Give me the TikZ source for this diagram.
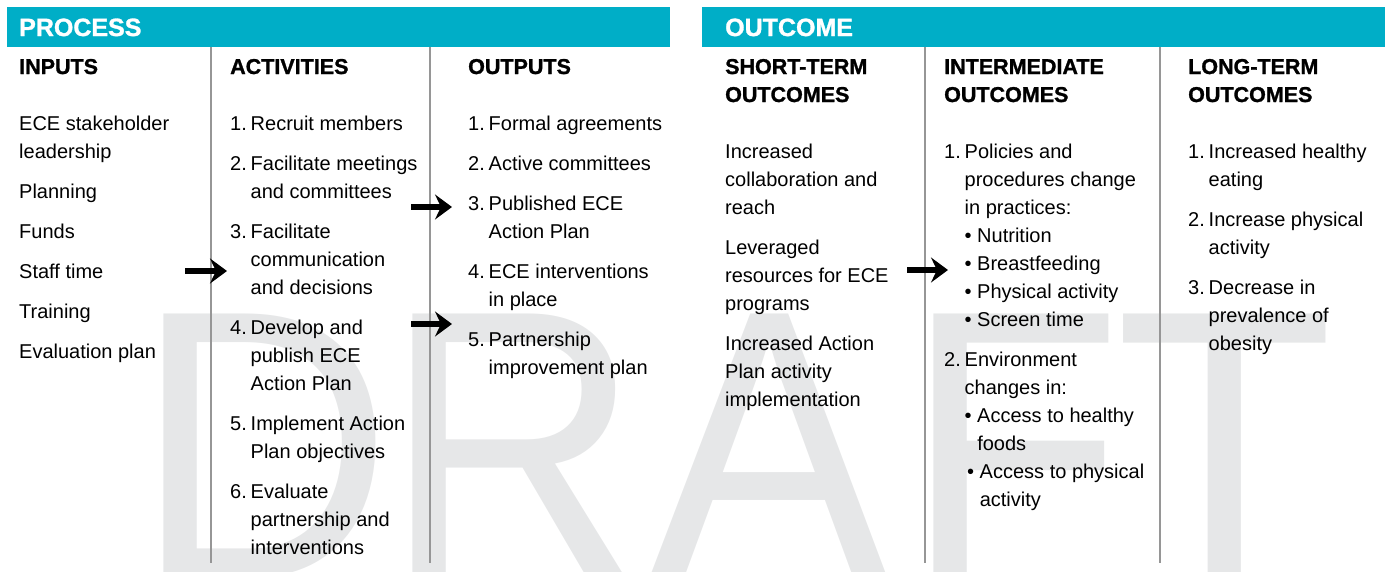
\documentclass[tikz,border=0pt]{standalone}
\usepackage{fontspec}
\setmainfont{Liberation Sans}[BoldFeatures={FakeBold=1.2}]
\usepackage{tikz}
\usetikzlibrary{arrows.meta, positioning}
\definecolor{bannerblue}{RGB}{0,174,199}
\definecolor{draftgray}{RGB}{230,231,232}
\definecolor{rulegray}{RGB}{150,150,150}
\newcommand{\lmnum}[1]{\makebox[20.5pt][l]{#1}}
\newcommand{\lmcont}{\hspace*{20.5pt}}
\newcommand{\lmbul}{\textbullet\ }

\begin{document}
\begin{tikzpicture}[x=1pt, y=-1pt,
	banner/.style={fill=bannerblue, draw=none},
	bannertext/.style={anchor=base west, inner sep=0pt, text=white, font=\fontsize{25}{30}\selectfont\bfseries},
	colhead/.style={anchor=base west, inner sep=0pt, align=left, font=\fontsize{21.5}{28}\selectfont\bfseries},
	item/.style={anchor=base west, inner sep=0pt, align=left, font=\fontsize{20}{28}\selectfont},
	colrule/.style={rulegray, line width=1.1pt},
	flow/.style={-{Stealth[length=17pt, width=25pt, inset=6pt]}, line width=6pt},
	watermark/.style={anchor=base west, inner sep=0pt, text=draftgray, yscale=1.07, font=\fontsize{358}{358}\selectfont}]
		\useasboundingbox (0,0) rectangle (1385,571);
		
		% watermark behind everything
		\begin{scope}
			\clip (0,0) rectangle (1385,571);
			\foreach \ch/\x in {D/134,R/383,A/649,F/904,T/1115}{
				\node[watermark] (draft\ch) at (\x,577) {\ch};
			}
		\end{scope}
		
		% banners
		\fill[banner] (7,7) rectangle (670,47);
		\fill[banner] (702,7) rectangle (1385,47);
		\node[bannertext] (process) at (19,36) {PROCESS};
		\node[bannertext] (outcome) at (725,36) {OUTCOME};
		
		\foreach \x in {211,430,925,1160}{
			\draw[colrule] (\x,47)--(\x,563);
		}
		
		% column heads (base = last line)
		\node[colhead] (hinputs) at (19,74) {INPUTS};
		\node[colhead] (hactivities) at (230,74) {ACTIVITIES};
		\node[colhead] (houtputs) at (468,74) {OUTPUTS};
		\node[colhead] (hshort) at (725,102) {SHORT-TERM\\OUTCOMES};
		\node[colhead] (hinter) at (944,102) {INTERMEDIATE\\OUTCOMES};
		\node[colhead] (hlong) at (1188,102) {LONG-TERM\\OUTCOMES};
		
		% inputs
		\node[item] (in1) at (19,158) {ECE stakeholder\\leadership};
		\node[item] (in2) at (19,198) {Planning};
		\node[item] (in3) at (19,238) {Funds};
		\node[item] (in4) at (19,278) {Staff time};
		\node[item] (in5) at (19,318) {Training};
		\node[item] (in6) at (19,358) {Evaluation plan};
		
		% activities
		\node[item] (act1) at (230,130) {\lmnum{1.}Recruit members};
		\node[item] (act2) at (230,198) {\lmnum{2.}Facilitate meetings\\\lmcont and committees};
		\node[item] (act3) at (230,294) {\lmnum{3.}Facilitate\\\lmcont communication\\\lmcont and decisions};
		\node[item] (act4) at (230,390) {\lmnum{4.}Develop and\\\lmcont publish ECE\\\lmcont Action Plan};
		\node[item] (act5) at (230,458) {\lmnum{5.}Implement Action\\\lmcont Plan objectives};
		\node[item] (act6) at (230,554) {\lmnum{6.}Evaluate\\\lmcont partnership and\\\lmcont interventions};
		
		% outputs
		\node[item] (out1) at (468,130) {\lmnum{1.}Formal agreements};
		\node[item] (out2) at (468,170) {\lmnum{2.}Active committees};
		\node[item] (out3) at (468,238) {\lmnum{3.}Published ECE\\\lmcont Action Plan};
		\node[item] (out4) at (468,306) {\lmnum{4.}ECE interventions\\\lmcont in place};
		\node[item] (out5) at (468,374) {\lmnum{5.}Partnership\\\lmcont improvement plan};
		
		% short-term outcomes
		\node[item] (st1) at (725,214) {Increased\\collaboration and\\reach};
		\node[item] (st2) at (725,310) {Leveraged\\resources for ECE\\programs};
		\node[item] (st3) at (725,406) {Increased Action\\Plan activity\\implementation};
		
		% intermediate outcomes
		\node[item] (im1) at (944,326) {\lmnum{1.}Policies and\\\lmcont procedures change\\\lmcont in practices:\\
			\lmcont\lmbul Nutrition\\\lmcont\lmbul Breastfeeding\\\lmcont\lmbul Physical activity\\\lmcont\lmbul Screen time};
		\node[item] (im2) at (944,450) {\lmnum{2.}Environment\\\lmcont changes in:\\
			\lmcont\lmbul Access to healthy\\\lmcont\hspace*{12.6pt}foods};
		\node[item] (im3) at (946.5,506) {\lmcont\lmbul Access to physical\\\lmcont\hspace*{12.6pt}activity};
		
		% long-term outcomes
		\node[item] (lt1) at (1188,186) {\lmnum{1.}Increased healthy\\\lmcont eating};
		\node[item] (lt2) at (1188,254) {\lmnum{2.}Increase physical\\\lmcont activity};
		\node[item] (lt3) at (1188,350) {\lmnum{3.}Decrease in\\\lmcont prevalence of\\\lmcont obesity};
		
		% arrows between columns
		\coordinate (a1s) at (185,271);
		\coordinate (a1e) at (227,271);
		\coordinate (a2s) at (411,207);
		\coordinate (a2e) at (452,207);
		\coordinate (a3s) at (411,324);
		\coordinate (a3e) at (452,324);
		\coordinate (a4s) at (907,270);
		\coordinate (a4e) at (948,270);
		\draw[flow] (a1s)--(a1e);
		\draw[flow] (a2s)--(a2e);
		\draw[flow] (a3s)--(a3e);
		\draw[flow] (a4s)--(a4e);
	\end{tikzpicture}
\end{document}
